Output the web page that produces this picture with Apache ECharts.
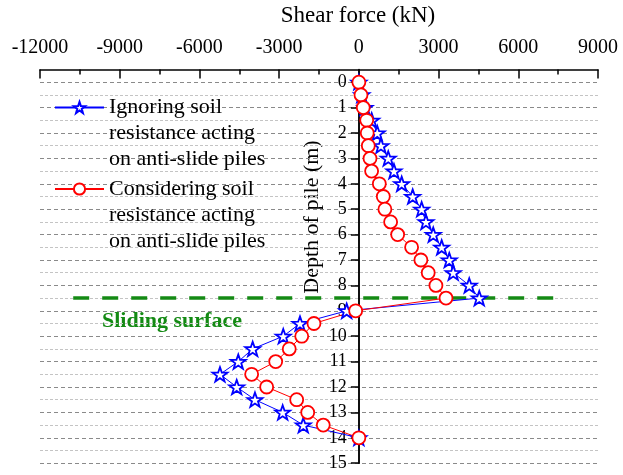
<!DOCTYPE html>
<html>
<head>
<meta charset="utf-8">
<script src="https://cdn.jsdelivr.net/npm/echarts@6/dist/echarts.min.js"></script>
<style>
  html, body { margin: 0; padding: 0; background: #fff; }
  #chart { width: 623px; height: 475px; }
</style>
</head>
<body>
<div id="chart"></div>
<script>
// Depth along the pile (m)
const depths = [0, 0.5, 1, 1.5, 2, 2.5, 3, 3.5, 4, 4.5, 5, 5.5, 6, 6.5, 7,
                7.5, 8, 8.5, 9, 9.5, 10, 10.5, 11, 11.5, 12, 12.5, 13, 13.5, 14];

// Shear force (kN) ignoring soil resistance acting on the piles
const shearIgnoring = [0, 110, 230, 482, 692, 832, 1106, 1321, 1611, 2025, 2363,
                       2525, 2800, 3116, 3402, 3552, 4154, 4531, -459, -2216, -2845,
                       -3996, -4538, -5227, -4598, -3910, -2867, -2092, 0];

// Shear force (kN) considering soil resistance acting on the piles
const shearConsidering = [0, 80, 165, 295, 315, 355, 420, 480, 770, 920, 980,
                          1195, 1460, 1985, 2335, 2610, 2900, 3280, -120, -1690, -2150,
                          -2620, -3130, -4035, -3470, -2340, -1925, -1340, 0];

// Sliding surface depth and the horizontal extent of its marker line (kN)
const slidingDepth = 8.5;
const slidingExtent = [-10750, 7450];

// Axis ranges and tick steps
const forceRange = [-12000, 9000];
const forceStep = 3000;
const depthRange = [0, 15];
const depthStep = 1;
const depthTopPad = 0.5;

const legendIgnoring = ['Ignoring soil', 'resistance acting', 'on anti-slide piles'];
const legendConsidering = ['Considering soil', 'resistance acting', 'on anti-slide piles'];
const nameIgnoring = legendIgnoring.join('\n');
const nameConsidering = legendConsidering.join('\n');

const FONT = '"Liberation Serif", "Times New Roman", serif';
const STAR = 'path://M100 0 L123.5 67.6 L195.1 69.1 L138 112.4 L158.8 180.9 L100 140 L41.2 180.9 L62 112.4 L4.9 69.1 L76.5 67.6 Z';

const pairs = (xs, ys) => xs.map((v, i) => [v, ys[i]]);

// Legend text: blank lines above keep the first line level with the icon
const legendText = name => {
  const lines = name.split('\n');
  const pad = new Array(lines.length - 1).fill(' ');
  return pad.concat(lines).join('\n');
};

const gridLeft = 40, gridRight = 25, gridTop = 69.5, gridBottom = 11.8;
const plotH = 475 - gridTop - gridBottom;
const unitPx = plotH / (depthRange[1] - depthRange[0] + depthTopPad);

const chart = echarts.init(document.getElementById('chart'), null, { renderer: 'canvas' });

const legendCommon = {
  orient: 'vertical',
  left: 54,
  padding: 0,
  itemWidth: 49,
  itemHeight: 14,
  selectedMode: false,
  formatter: legendText,
  textStyle: { fontFamily: FONT, fontSize: 22, lineHeight: 26, color: '#000' }
};

chart.setOption({
  animation: false,
  backgroundColor: '#fff',
  legend: [
    Object.assign({ top: 42.5, data: [nameIgnoring] }, legendCommon),
    Object.assign({ top: 124, data: [nameConsidering] }, legendCommon)
  ],
  grid: [
    // outer frame: top force axis, full-height zero line
    { left: gridLeft, right: gridRight, top: gridTop, bottom: gridBottom },
    // data area starting at depth 0
    { left: gridLeft, right: gridRight, top: gridTop + unitPx * depthTopPad, bottom: gridBottom }
  ],
  xAxis: [
    {
      gridIndex: 0, type: 'value', position: 'top',
      min: forceRange[0], max: forceRange[1], interval: forceStep,
      axisLine: { onZero: false, lineStyle: { color: '#000', width: 1.5 } },
      axisTick: { inside: true, length: 9, lineStyle: { color: '#000', width: 1.5 } },
      minorTick: { show: true, splitNumber: 2, length: 5, lineStyle: { color: '#000', width: 1.5 } },
      axisLabel: { margin: 12, fontFamily: FONT, fontSize: 20, color: '#000',
                   formatter: v => String(v) },
      splitLine: { show: false }
    },
    {
      gridIndex: 1, type: 'value', position: 'top',
      min: forceRange[0], max: forceRange[1], interval: forceStep,
      axisLine: { show: false, onZero: false },
      axisTick: { show: false },
      axisLabel: { show: false },
      splitLine: { show: false }
    }
  ],
  yAxis: [
    {
      gridIndex: 0, type: 'value', inverse: true,
      min: depthRange[0] - depthTopPad, max: depthRange[1], interval: 0.5,
      axisLine: { show: true, onZero: true, lineStyle: { color: '#000', width: 1.5 } },
      axisTick: { show: false },
      axisLabel: { show: false },
      splitLine: { show: false }
    },
    {
      gridIndex: 1, type: 'value', inverse: true, position: 'left',
      min: depthRange[0], max: depthRange[1], interval: depthStep,
      axisLine: { show: true, onZero: false, lineStyle: { color: '#000', width: 1.5 } },
      axisTick: { show: true, inside: false, length: 8, lineStyle: { color: '#000', width: 1.5 } },
      axisLabel: { margin: 12, fontFamily: FONT, fontSize: 18, color: '#000' },
      splitLine: { show: true, lineStyle: { color: '#8a8a8a', width: 1, type: [4, 3] } },
      minorTick: { show: false, splitNumber: 2 },
      minorSplitLine: { show: true, lineStyle: { color: '#c4c4c4', width: 1, type: [3, 2] } }
    }
  ],
  graphic: [
    {
      type: 'text', x: 358, y: 16,
      style: { text: 'Shear force (kN)', font: '23px ' + FONT, fill: '#000',
               align: 'center', verticalAlign: 'middle' }
    },
    {
      type: 'text', x: 312, y: 217, rotation: Math.PI / 2,
      style: { text: 'Depth of pile (m)', font: '22px ' + FONT, fill: '#000',
               align: 'center', verticalAlign: 'middle' }
    },
    {
      type: 'text', x: 102, y: 321,
      style: { text: 'Sliding surface', font: 'bold 22px ' + FONT, fill: '#148a14',
               align: 'left', verticalAlign: 'middle' }
    }
  ],
  series: [
    {
      name: 'Sliding surface', type: 'line',
      xAxisIndex: 1, yAxisIndex: 1,
      data: slidingExtent.map(x => [x, slidingDepth]),
      symbol: 'none', silent: true,
      lineStyle: { color: '#148a14', width: 3.5, type: [16, 13] }
    },
    {
      name: nameIgnoring, type: 'line',
      xAxisIndex: 1, yAxisIndex: 1,
      data: pairs(shearIgnoring, depths),
      symbol: STAR, symbolSize: 15, symbolKeepAspect: true,
      lineStyle: { color: '#0000ff', width: 1 },
      itemStyle: { color: '#ffffff', borderColor: '#0000ff', borderWidth: 1.8 }
    },
    {
      name: nameConsidering, type: 'line',
      xAxisIndex: 1, yAxisIndex: 1,
      data: pairs(shearConsidering, depths),
      symbol: 'circle', symbolSize: 13,
      lineStyle: { color: '#ff0000', width: 1 },
      itemStyle: { color: '#ffffff', borderColor: '#ff0000', borderWidth: 1.8 }
    }
  ]
});

// Move the depth axis onto the zero-force line of the force scale
const zeroX = chart.convertToPixel({ xAxisIndex: 1 }, 0);
chart.setOption({ yAxis: [{}, { offset: gridLeft - zeroX }] });
</script>
</body>
</html>
